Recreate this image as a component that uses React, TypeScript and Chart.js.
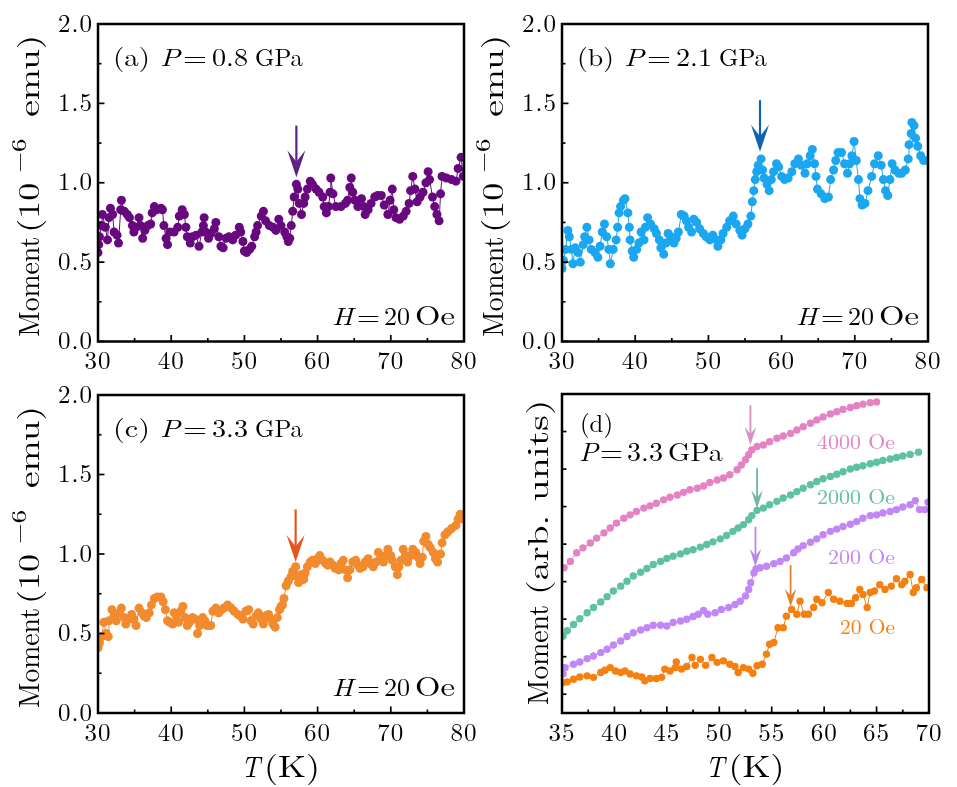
import React, { useEffect, useRef } from 'react';
import { Chart, registerables } from 'chart.js';
Chart.register(...registerables);

const W = 957;
const H = 787;
const FONT = '"Latin Modern Roman", "Liberation Serif", serif';

// ---------- data: [T (K), moment] ----------
const seriesA: [number, number][] = [
  [30.0,0.56],[30.1,0.61],[30.2,0.66],[30.5,0.73],[30.6,0.80],[31.0,0.72],[31.3,0.64],[31.5,0.78],[31.7,0.84],[32.0,0.80],
  [32.2,0.69],[32.6,0.67],[32.8,0.62],[33.1,0.83],[33.2,0.89],[33.6,0.82],[34.0,0.80],[34.3,0.78],[34.7,0.73],[34.9,0.69],
  [35.2,0.72],[35.6,0.78],[35.8,0.73],[36.1,0.65],[36.4,0.70],[36.8,0.73],[37.2,0.74],[37.4,0.81],[37.7,0.85],[38.0,0.83],
  [38.6,0.84],[38.8,0.83],[39.0,0.73],[39.3,0.65],[39.5,0.61],[39.8,0.69],[40.4,0.69],[40.9,0.72],[41.1,0.79],[41.5,0.83],
  [41.8,0.80],[42.0,0.72],[42.2,0.66],[42.6,0.62],[42.9,0.66],[43.4,0.67],[43.8,0.60],[44.2,0.69],[44.4,0.73],[44.5,0.78],
  [44.7,0.69],[45.1,0.65],[45.4,0.68],[45.9,0.71],[46.1,0.75],[46.5,0.66],[46.8,0.60],[47.1,0.59],[47.5,0.65],[47.9,0.66],
  [48.4,0.64],[48.8,0.67],[49.3,0.72],[49.5,0.69],[49.8,0.63],[50.0,0.57],[50.3,0.56],[50.7,0.58],[51.0,0.60],[51.4,0.66],
  [51.6,0.69],[51.8,0.73],[52.3,0.79],[52.6,0.82],[52.9,0.76],[53.4,0.73],[53.9,0.72],[54.3,0.70],[54.7,0.77],[55.0,0.73],
  [55.5,0.69],[55.8,0.66],[56.0,0.63],[56.2,0.65],[56.4,0.73],[56.6,0.82],[56.8,0.91],[57.1,0.99],[57.3,0.96],[57.5,0.87],
  [57.8,0.80],[58.1,0.87],[58.3,0.91],[58.6,0.96],[59.0,1.01],[59.3,0.99],[59.8,0.96],[60.2,0.94],[60.7,0.91],[60.9,0.85],
  [61.2,0.81],[61.5,0.85],[61.7,0.94],[61.8,1.03],[62.1,0.93],[62.5,0.85],[63.2,0.85],[63.8,0.87],[64.1,0.89],[64.4,0.97],
  [64.6,1.03],[64.8,0.94],[65.1,0.89],[65.5,0.85],[66.0,0.90],[66.3,0.85],[66.5,0.80],[66.9,0.83],[67.3,0.87],[67.8,0.91],
  [68.2,0.92],[68.7,0.92],[69.1,0.86],[69.6,0.80],[69.9,0.89],[70.2,0.96],[70.4,0.83],[70.7,0.78],[71.2,0.77],[71.7,0.79],
  [72.1,0.82],[72.5,0.87],[72.7,0.95],[73.0,1.04],[73.3,0.96],[73.6,0.88],[74.0,0.91],[74.4,0.94],[74.8,1.00],[75.1,1.07],
  [75.3,1.02],[75.7,0.91],[76.0,0.85],[76.3,0.80],[76.6,0.76],[76.8,0.93],[77.0,1.04],[77.6,1.03],[78.3,1.02],[78.9,1.01],
  [79.2,1.09],[79.6,1.16],[79.9,1.04],
];

const seriesB: [number, number][] = [
  [30.0,0.46],[30.2,0.51],[30.5,0.58],[30.8,0.70],[31.0,0.66],[31.3,0.58],[31.5,0.49],[31.8,0.59],[32.2,0.56],[32.5,0.50],
  [32.9,0.61],[33.1,0.66],[33.4,0.72],[33.7,0.64],[34.0,0.58],[34.5,0.56],[34.9,0.53],[35.2,0.60],[35.5,0.69],[35.8,0.74],
  [36.1,0.66],[36.4,0.58],[36.6,0.49],[37.0,0.58],[37.4,0.64],[37.6,0.72],[37.8,0.81],[38.0,0.85],[38.4,0.89],[38.6,0.90],
  [39.0,0.81],[39.2,0.72],[39.3,0.64],[39.6,0.57],[39.8,0.53],[40.2,0.58],[40.5,0.62],[40.8,0.69],[41.2,0.64],[41.4,0.72],
  [41.7,0.78],[42.1,0.74],[42.6,0.71],[42.9,0.68],[43.3,0.64],[43.5,0.59],[43.9,0.55],[44.2,0.62],[44.5,0.68],[44.9,0.66],
  [45.3,0.62],[45.6,0.65],[45.9,0.69],[46.3,0.80],[46.7,0.79],[47.0,0.76],[47.3,0.72],[47.7,0.69],[48.0,0.77],[48.4,0.75],
  [48.8,0.71],[49.3,0.68],[49.7,0.66],[50.2,0.64],[50.6,0.67],[51.1,0.64],[51.3,0.60],[51.7,0.64],[52.0,0.68],[52.5,0.72],
  [52.9,0.76],[53.4,0.79],[53.8,0.74],[54.3,0.70],[54.6,0.67],[55.0,0.71],[55.4,0.74],[55.8,0.79],[56.0,0.88],[56.2,0.95],
  [56.4,1.02],[56.6,1.07],[56.8,1.11],[57.2,1.15],[57.4,1.08],[57.6,1.03],[58.0,0.99],[58.3,0.95],[58.6,1.02],[58.9,1.07],
  [59.3,1.12],[59.6,1.10],[60.0,1.04],[60.4,1.02],[60.9,1.03],[61.4,1.07],[61.8,1.12],[62.3,1.15],[62.7,1.11],[63.2,1.06],
  [63.5,1.12],[63.9,1.17],[64.2,1.21],[64.5,1.12],[64.7,1.04],[64.9,0.96],[65.4,0.93],[65.9,0.90],[66.4,0.91],[66.7,1.02],
  [67.1,1.08],[67.4,1.14],[67.7,1.19],[68.2,1.19],[68.6,1.12],[69.0,1.06],[69.3,1.12],[69.6,1.17],[69.9,1.26],[70.2,1.14],
  [70.5,1.02],[70.7,0.90],[71.0,0.86],[71.4,0.87],[71.8,0.95],[72.3,1.04],[72.7,1.12],[73.2,1.17],[73.6,1.11],[73.9,1.02],
  [74.2,0.95],[74.5,0.92],[74.8,1.02],[75.1,1.12],[75.5,1.08],[76.0,1.06],[76.4,1.06],[76.9,1.08],[77.3,1.15],[77.4,1.24],
  [77.7,1.31],[77.8,1.38],[78.1,1.36],[78.3,1.28],[78.6,1.23],[79.0,1.17],[79.4,1.14],[80.0,1.14],
];

const seriesC: [number, number][] = [
  [30.0,0.41],[30.2,0.44],[30.5,0.48],[30.8,0.57],[31.1,0.50],[31.4,0.48],[31.5,0.58],[31.9,0.65],[32.2,0.61],[32.5,0.58],
  [32.9,0.63],[33.2,0.66],[33.6,0.60],[33.8,0.56],[34.2,0.59],[34.6,0.62],[34.9,0.59],[35.2,0.55],[35.6,0.66],[36.0,0.63],
  [36.3,0.61],[36.6,0.60],[37.0,0.63],[37.3,0.68],[37.7,0.72],[38.1,0.73],[38.6,0.73],[38.9,0.70],[39.2,0.65],[39.5,0.58],
  [39.8,0.57],[40.2,0.56],[40.4,0.63],[40.7,0.61],[41.0,0.57],[41.3,0.64],[41.6,0.67],[41.9,0.60],[42.2,0.55],[42.5,0.57],
  [42.9,0.60],[43.3,0.59],[43.6,0.50],[43.9,0.55],[44.3,0.60],[44.6,0.58],[44.9,0.55],[45.4,0.55],[45.7,0.64],[46.1,0.66],
  [46.5,0.63],[46.9,0.65],[47.2,0.66],[47.7,0.68],[48.2,0.66],[48.6,0.64],[49.1,0.62],[49.5,0.61],[49.8,0.59],[50.2,0.64],
  [50.6,0.65],[50.9,0.58],[51.2,0.56],[51.6,0.61],[51.9,0.63],[52.3,0.59],[52.6,0.56],[52.9,0.61],[53.3,0.62],[53.6,0.59],
  [53.9,0.56],[54.2,0.54],[54.5,0.60],[54.8,0.65],[55.0,0.67],[55.2,0.68],[55.4,0.72],[55.7,0.80],[56.0,0.83],[56.4,0.86],
  [56.6,0.89],[57.0,0.92],[57.2,0.86],[57.4,0.82],[57.7,0.87],[58.1,0.84],[58.3,0.88],[58.6,0.92],[59.0,0.95],[59.3,0.96],
  [59.7,0.94],[60.0,0.97],[60.3,0.99],[60.7,0.96],[61.1,0.94],[61.4,0.93],[61.7,0.95],[62.1,0.93],[62.4,0.91],[62.9,0.90],
  [63.2,0.94],[63.5,0.96],[63.8,0.90],[64.1,0.85],[64.4,0.90],[64.8,0.95],[65.2,0.96],[65.5,0.93],[65.8,0.91],[66.2,0.92],
  [66.5,0.95],[66.9,0.97],[67.2,0.94],[67.6,0.92],[68.0,0.95],[68.3,1.01],[68.6,0.97],[69.0,0.95],[69.3,0.99],[69.6,1.03],
  [70.0,0.99],[70.2,0.96],[70.6,0.92],[70.9,0.87],[71.1,0.92],[71.4,0.96],[71.7,1.03],[72.0,0.99],[72.3,0.95],[72.7,0.99],
  [73.0,1.03],[73.4,1.01],[73.7,0.98],[74.0,0.94],[74.3,0.98],[74.5,1.08],[74.8,1.11],[75.1,1.06],[75.4,1.04],[75.8,1.01],
  [76.1,0.97],[76.4,0.95],[76.8,1.00],[77.0,1.07],[77.4,1.12],[77.8,1.14],[78.3,1.16],[78.9,1.18],[79.2,1.22],[79.5,1.25],
  [79.9,1.22],
];

// panel (d), arbitrary units (offset curves)
const seriesD4000: [number, number][] = [
  [35.2,3.37],[35.8,3.54],[36.4,3.77],[37.0,3.90],[37.7,4.03],[38.3,4.16],[39.0,4.30],[39.6,4.43],[40.2,4.56],[40.9,4.69],
  [41.5,4.78],[42.1,4.87],[42.8,4.96],[43.4,5.02],[44.0,5.09],[44.7,5.18],[45.3,5.25],[46.0,5.31],[46.6,5.38],[47.2,5.45],
  [47.9,5.49],[48.5,5.55],[49.1,5.64],[49.8,5.71],[50.4,5.76],[51.0,5.85],[51.7,5.98],[52.1,6.11],[52.5,6.25],[52.8,6.38],
  [53.1,6.51],[53.6,6.60],[54.2,6.64],[54.8,6.73],[55.5,6.82],[56.1,6.88],[56.8,6.95],[57.4,7.04],[58.0,7.13],[58.7,7.22],
  [59.3,7.31],[59.9,7.39],[60.6,7.47],[61.2,7.53],[61.8,7.59],[62.5,7.64],[63.1,7.69],[63.7,7.73],[64.4,7.77],[65.0,7.79],
];
const seriesD2000: [number, number][] = [
  [35.1,1.55],[35.5,1.69],[36.1,1.86],[36.7,2.01],[37.4,2.17],[38.0,2.31],[38.7,2.46],[39.3,2.60],[39.9,2.75],[40.6,2.88],
  [41.2,3.01],[41.8,3.15],[42.5,3.25],[43.1,3.35],[43.7,3.46],[44.4,3.54],[45.0,3.62],[45.6,3.68],[46.3,3.74],[46.9,3.81],
  [47.5,3.85],[48.2,3.92],[48.8,3.99],[49.4,4.06],[50.1,4.14],[50.7,4.23],[51.3,4.34],[51.8,4.43],[52.3,4.52],[52.8,4.65],
  [53.1,4.76],[53.6,4.90],[54.2,4.96],[54.8,5.05],[55.5,5.14],[56.1,5.23],[56.8,5.31],[57.4,5.40],[58.0,5.49],[58.7,5.58],
  [59.3,5.67],[59.9,5.74],[60.6,5.80],[61.2,5.86],[61.8,5.93],[62.5,6.00],[63.1,6.05],[63.7,6.09],[64.4,6.14],[65.0,6.18],
  [65.6,6.23],[66.3,6.27],[66.9,6.31],[67.5,6.35],[68.2,6.39],[69.0,6.45],
];
const seriesD200: [number, number][] = [
  [35.1,0.54],[35.3,0.71],[36.1,0.80],[36.7,0.86],[37.4,0.95],[38.0,1.02],[38.7,1.11],[39.3,1.20],[39.9,1.31],[40.6,1.42],
  [41.2,1.54],[41.8,1.64],[42.5,1.71],[43.1,1.77],[43.7,1.84],[44.4,1.84],[45.0,1.82],[45.6,1.91],[46.3,1.95],[46.9,2.00],
  [47.5,2.07],[48.0,2.13],[48.5,2.23],[48.9,2.13],[49.6,2.17],[50.2,2.26],[50.9,2.31],[51.5,2.39],[52.0,2.48],[52.5,2.62],
  [52.8,2.79],[53.0,2.97],[53.3,3.23],[53.5,3.34],[53.9,3.37],[54.5,3.41],[55.2,3.48],[55.8,3.54],[56.4,3.63],[57.1,3.77],
  [57.5,3.87],[58.0,3.96],[58.7,4.05],[59.3,4.14],[59.9,4.25],[60.6,4.34],[61.2,4.40],[61.8,4.47],[62.5,4.53],[63.1,4.60],
  [63.7,4.69],[64.4,4.76],[65.0,4.78],[65.6,4.83],[66.3,4.87],[66.9,4.92],[67.5,4.99],[68.2,5.05],[68.7,5.16],[69.1,4.92],
  [69.6,4.92],[69.9,5.12],
];
const seriesD20: [number, number][] = [
  [35.1,0.31],[35.5,0.33],[36.1,0.40],[36.7,0.46],[37.4,0.49],[38.0,0.45],[38.7,0.58],[39.1,0.64],[39.6,0.71],[40.1,0.62],
  [40.6,0.58],[41.0,0.62],[41.5,0.54],[42.1,0.49],[42.6,0.46],[42.9,0.36],[43.4,0.42],[44.0,0.42],[44.5,0.45],[44.8,0.67],
  [45.3,0.62],[45.8,0.71],[45.9,0.86],[46.4,0.67],[46.9,0.74],[47.4,0.98],[47.7,0.77],[48.2,0.93],[48.7,0.77],[49.3,0.98],
  [49.8,0.85],[50.4,0.89],[51.0,0.80],[51.5,0.74],[51.8,0.58],[52.3,0.71],[52.8,0.67],[53.2,0.56],[53.6,0.76],[54.1,0.80],
  [54.5,1.07],[54.8,1.33],[55.2,1.38],[55.6,1.77],[56.1,1.77],[56.4,2.08],[56.9,2.26],[57.4,2.13],[57.7,2.48],[58.1,2.13],
  [58.5,2.13],[59.0,2.31],[59.3,2.53],[59.8,2.44],[60.4,2.71],[60.9,2.53],[61.5,2.48],[62.2,2.42],[62.6,2.42],[63.0,2.57],
  [63.4,2.79],[63.7,2.66],[64.1,2.31],[64.4,2.71],[64.8,2.75],[65.3,2.92],[65.8,2.79],[66.4,2.88],[66.9,3.08],[67.4,2.92],
  [67.7,3.01],[68.2,3.19],[68.5,2.71],[68.8,2.84],[69.3,3.06],[69.8,2.84],
];

// ticks & labels
const xTicksABC = [30, 40, 50, 60, 70, 80];
const xTicksD = [35, 40, 45, 50, 55, 60, 65, 70];
const yTicksABC = [0, 0.5, 1.0, 1.5, 2.0];
const yLabelsABC = ['0.0', '0.5', '1.0', '1.5', '2.0'];
const yTicksD = [0, 1, 2, 3, 4, 5, 6, 7];

// arrows: [T, top value, tip value]
const arrowA: [number, number, number] = [57.1, 1.36, 1.035];
const arrowB: [number, number, number] = [57.05, 1.52, 1.195];
const arrowC: [number, number, number] = [57.0, 1.28, 0.95];
const arrowD4000: [number, number, number] = [52.97, 7.7, 6.64];
const arrowD2000: [number, number, number] = [53.6, 6.02, 4.95];
const arrowD200: [number, number, number] = [53.45, 4.46, 3.40];
const arrowD20: [number, number, number] = [56.8, 3.44, 2.33];

const fieldLabels = ['4000 Oe', '2000 Oe', '200 Oe', '20 Oe'];

// ---------- helpers ----------
type HText = { t: string; x0: number; x1: number; y: number; size: number; italic?: boolean; color?: string };
type VText = { t: string; y0: number; len: number; x: number; size: number };
type Arrow = { a: [number, number, number]; color: string; head: number; hw: number; notch: number; lw: number };
type Series = { pts: [number, number][]; color: string };
type Panel = {
  L: number; R: number; T: number; B: number;
  xmin: number; xmax: number; ymin: number; ymax: number;
  xTicks: number[]; yTicks: number[]; yLabels: string[] | null; yMinor: boolean;
  series: Series[]; r: number; arrows: Arrow[]; texts: HText[]; vtexts: VText[];
};

function panelLabel(L: number, T: number, letter: string, pval: string): HText[] {
  const y = T + 42;
  return [
    { t: `(${letter})`, x0: L + 15, x1: L + 52, y, size: 25 },
    { t: 'P', x0: L + 62, x1: L + 82, y, size: 25, italic: true },
    { t: '=', x0: L + 85, x1: L + 109, y, size: 25 },
    { t: pval, x0: L + 114, x1: L + 150, y, size: 25 },
    { t: 'GPa', x0: L + 157, x1: L + 205, y, size: 25 },
  ];
}
function hLabel(R: number, B: number): HText[] {
  const y = B - 17;
  return [
    { t: 'H', x0: R - 132, x1: R - 111, y, size: 25, italic: true },
    { t: '=', x0: R - 107, x1: R - 84, y, size: 25 },
    { t: '20', x0: R - 80, x1: R - 54, y, size: 25 },
    { t: 'Oe', x0: R - 49, x1: R - 9, y, size: 27 },
  ];
}
function xTitle(L: number, R: number, B: number): HText[] {
  const cx = (L + R) / 2;
  const y = B + 64;
  return [
    { t: 'T', x0: cx - 40, x1: cx - 21, y, size: 30, italic: true },
    { t: '(K)', x0: cx - 17, x1: cx + 39, y, size: 31 },
  ];
}
function yTitleEmu(L: number, T: number, B: number): VText[] {
  const cy = (T + B) / 2;
  const x = L - 59;
  return [
    { t: 'Moment', y0: cy + 154, len: 100, x, size: 29 },
    { t: '(10', y0: cy + 50, len: 50, x, size: 29 },
    { t: '\u22126', y0: cy - 10, len: 34, x: x - 13, size: 21 },
    { t: 'emu)', y0: cy - 66, len: 82, x, size: 29 },
  ];
}

function makeABC(L: number, R: number, T: number, B: number, letter: string, pval: string,
  pts: [number, number][], color: string, arrow: [number, number, number], arrowColor: string, withXTitle: boolean): Panel {
  return {
    L, R, T, B, xmin: 30, xmax: 80, ymin: 0, ymax: 2,
    xTicks: xTicksABC, yTicks: yTicksABC, yLabels: yLabelsABC, yMinor: true,
    series: [{ pts, color }], r: 4.5,
    arrows: [{ a: arrow, color: arrowColor, head: 27, hw: 18, notch: 15.5, lw: 2.2 }],
    texts: [...panelLabel(L, T, letter, pval), ...hLabel(R, B), ...(withXTitle ? xTitle(L, R, B) : [])],
    vtexts: yTitleEmu(L, T, B),
  };
}

const DL = 562, DR = 929, DT = 394, DB = 713;
const dColors = ['#e483c3', '#5fc29f', '#c287f7', '#f6800f'];
const dArrowColors = ['#d98fc0', '#6fb9a0', '#b488f2', '#e0822e'];
const panelD: Panel = {
  L: DL, R: DR, T: DT, B: DB, xmin: 35, xmax: 70, ymin: -0.5, ymax: 8,
  xTicks: xTicksD, yTicks: yTicksD, yLabels: null, yMinor: false,
  series: [
    { pts: seriesD4000, color: dColors[0] },
    { pts: seriesD2000, color: dColors[1] },
    { pts: seriesD200, color: dColors[2] },
    { pts: seriesD20, color: dColors[3] },
  ],
  r: 3.7,
  arrows: [arrowD4000, arrowD2000, arrowD200, arrowD20].map((a, i) => ({ a, color: dArrowColors[i], head: 18, hw: 11.5, notch: 11, lw: 1.8 })),
  texts: [
    { t: '(d)', x0: DL + 18, x1: DL + 51, y: DT + 38, size: 25 },
    { t: 'P', x0: DL + 17, x1: DL + 36, y: DT + 67, size: 26, italic: true },
    { t: '=', x0: DL + 38, x1: DL + 61, y: DT + 67, size: 26 },
    { t: '3.3', x0: DL + 65, x1: DL + 101, y: DT + 67, size: 26 },
    { t: 'GPa', x0: DL + 106, x1: DL + 161, y: DT + 67, size: 26 },
    { t: fieldLabels[0], x0: DL + 255, x1: DL + 333, y: DT + 55, size: 21, color: dColors[0] },
    { t: fieldLabels[1], x0: DL + 255, x1: DL + 333, y: DT + 110, size: 21, color: dColors[1] },
    { t: fieldLabels[2], x0: DL + 266, x1: DL + 333, y: DT + 170, size: 21, color: dColors[2] },
    { t: fieldLabels[3], x0: DL + 278, x1: DL + 333, y: DT + 240, size: 21, color: dColors[3] },
    ...xTitle(DL, DR, DB),
  ],
  vtexts: [
    { t: 'Moment', y0: (DT + DB) / 2 + 151.5, len: 100, x: 548, size: 29 },
    { t: '(arb.', y0: (DT + DB) / 2 + 41.5, len: 80, x: 548, size: 29 },
    { t: 'units)', y0: (DT + DB) / 2 - 52, len: 102, x: 548, size: 29 },
  ],
};

const PANELS: Panel[] = [
  makeABC(98, 464, 24, 341.5, 'a', '0.8', seriesA, '#68087f', arrowA, '#5c2387', false),
  makeABC(562, 928, 24, 341.5, 'b', '2.1', seriesB, '#1ba6f0', arrowB, '#0f64b0', false),
  makeABC(98, 464, 395, 713, 'c', '3.3', seriesC, '#f28a2e', arrowC, '#e8521b', true),
  panelD,
];

function drawH(ctx: any, t: HText) {
  ctx.save();
  ctx.font = `${t.italic ? 'italic ' : ''}${t.size}px ${FONT}`;
  ctx.fillStyle = t.color || '#000';
  ctx.textAlign = 'left';
  ctx.textBaseline = 'alphabetic';
  const w = ctx.measureText(t.t).width || 1;
  ctx.translate(t.x0, t.y);
  ctx.scale((t.x1 - t.x0) / w, 1);
  ctx.fillText(t.t, 0, 0);
  ctx.restore();
}
function drawV(ctx: any, t: VText) {
  ctx.save();
  ctx.font = `${t.size}px ${FONT}`;
  ctx.fillStyle = '#000';
  ctx.textAlign = 'left';
  ctx.textBaseline = 'alphabetic';
  const w = ctx.measureText(t.t).width || 1;
  ctx.translate(t.x, t.y0);
  ctx.rotate(-Math.PI / 2);
  ctx.scale(t.len / w, 1);
  ctx.fillText(t.t, 0, 0);
  ctx.restore();
}

function decorPlugin(p: Panel) {
  return {
    id: 'decor',
    beforeDraw(chart: any) {
      chart.ctx.letterSpacing = '1px';
    },
    afterDatasetsDraw(chart: any) {
      const ctx = chart.ctx;
      const a = chart.chartArea;
      const xs = chart.scales.x;
      const ys = chart.scales.y;
      ctx.save();
      ctx.strokeStyle = '#000';
      ctx.lineWidth = 1.7;
      const seg = (x0: number, y0: number, x1: number, y1: number) => {
        ctx.beginPath(); ctx.moveTo(x0, y0); ctx.lineTo(x1, y1); ctx.stroke();
      };
      const MAJ = 6.5, MIN = 3.5;
      p.xTicks.forEach((v, i) => {
        const px = xs.getPixelForValue(v);
        seg(px, a.bottom, px, a.bottom - MAJ);
        if (i < p.xTicks.length - 1) {
          const m = xs.getPixelForValue((v + p.xTicks[i + 1]) / 2);
          seg(m, a.bottom, m, a.bottom - MIN);
        }
      });
      p.yTicks.forEach((v, i) => {
        const py = ys.getPixelForValue(v);
        seg(a.left, py, a.left + (p.yMinor ? MAJ : 4.5), py);
        if (p.yMinor && i < p.yTicks.length - 1) {
          const m = ys.getPixelForValue((v + p.yTicks[i + 1]) / 2);
          seg(a.left, m, a.left + MIN, m);
        }
      });
      ctx.lineWidth = 2.5;
      ctx.strokeRect(a.left, a.top, a.right - a.left, a.bottom - a.top);
      ctx.restore();
    },
    afterDraw(chart: any) {
      const ctx = chart.ctx;
      const xs = chart.scales.x;
      const ys = chart.scales.y;
      ctx.save();
      ctx.letterSpacing = '0px';
      for (const ar of p.arrows) {
        const x = xs.getPixelForValue(ar.a[0]);
        const y0 = ys.getPixelForValue(ar.a[1]);
        const y1 = ys.getPixelForValue(ar.a[2]);
        ctx.strokeStyle = ar.color;
        ctx.fillStyle = ar.color;
        ctx.lineWidth = ar.lw;
        ctx.beginPath(); ctx.moveTo(x, y0); ctx.lineTo(x, y1 - ar.notch); ctx.stroke();
        ctx.beginPath();
        ctx.moveTo(x, y1);
        ctx.lineTo(x - ar.hw / 2, y1 - ar.head);
        ctx.lineTo(x, y1 - ar.notch);
        ctx.lineTo(x + ar.hw / 2, y1 - ar.head);
        ctx.closePath();
        ctx.fill();
      }
      for (const t of p.texts) drawH(ctx, t);
      for (const t of p.vtexts) drawV(ctx, t);
      ctx.restore();
    },
  };
}

function makeChart(canvas: HTMLCanvasElement, p: Panel) {
  const AX = 40;
  const tickFont = { family: FONT, size: 25 };
  return new Chart(canvas, {
    type: 'line',
    data: {
      datasets: p.series.map((s) => ({
        data: s.pts.map(([x, y]) => ({ x, y })),
        borderColor: s.color,
        backgroundColor: s.color,
        pointBackgroundColor: s.color,
        pointBorderWidth: 0,
        pointRadius: p.r,
        pointHoverRadius: p.r,
        borderWidth: 1,
        tension: 0,
        fill: false,
      })),
    },
    options: {
      responsive: false,
      animation: false,
      devicePixelRatio: 1,
      events: [],
      layout: { padding: { left: p.L - AX, right: W - p.R, top: p.T, bottom: H - p.B - AX } },
      plugins: { legend: { display: false }, tooltip: { enabled: false } },
      scales: {
        x: {
          type: 'linear', min: p.xmin, max: p.xmax,
          afterFit: (s: any) => { s.height = AX; },
          afterBuildTicks: (s: any) => { s.ticks = p.xTicks.map((v) => ({ value: v })); },
          grid: { display: false, drawTicks: false },
          border: { display: false },
          ticks: { font: tickFont, color: '#000', padding: 5, maxRotation: 0, autoSkip: false, callback: (v: any) => String(v) },
        },
        y: {
          type: 'linear', min: p.ymin, max: p.ymax,
          afterFit: (s: any) => { s.width = AX; },
          afterBuildTicks: (s: any) => { s.ticks = p.yTicks.map((v) => ({ value: v })); },
          grid: { display: false, drawTicks: false },
          border: { display: false },
          ticks: {
            display: !!p.yLabels, font: tickFont, color: '#000', padding: 5, autoSkip: false,
            callback: (_v: any, i: number) => (p.yLabels ? p.yLabels[i] : ''),
          },
        },
      },
    } as any,
    plugins: [decorPlugin(p)],
  });
}

export default function App() {
  const r0 = useRef<HTMLCanvasElement>(null);
  const r1 = useRef<HTMLCanvasElement>(null);
  const r2 = useRef<HTMLCanvasElement>(null);
  const r3 = useRef<HTMLCanvasElement>(null);
  const refs = [r0, r1, r2, r3];
  useEffect(() => {
    const charts = PANELS.map((p, i) => makeChart(refs[i].current as HTMLCanvasElement, p));
    let alive = true;
    const fonts: any = (document as any).fonts;
    if (fonts && fonts.load) {
      Promise.all([
        fonts.load('24px "Latin Modern Roman"'),
        fonts.load('italic 24px "Latin Modern Roman"'),
      ]).then(() => {
        if (alive) charts.forEach((c) => c.update());
      }).catch(() => {});
    }
    return () => {
      alive = false;
      charts.forEach((c) => c.destroy());
    };
  }, []);
  return (
    <div style={{ position: 'absolute', left: 0, top: 0, width: W, height: H, background: '#fff' }}>
      {refs.map((r, i) => (
        <canvas key={i} ref={r} width={W} height={H}
          style={{ position: 'absolute', left: 0, top: 0, width: W, height: H }} />
      ))}
    </div>
  );
}
